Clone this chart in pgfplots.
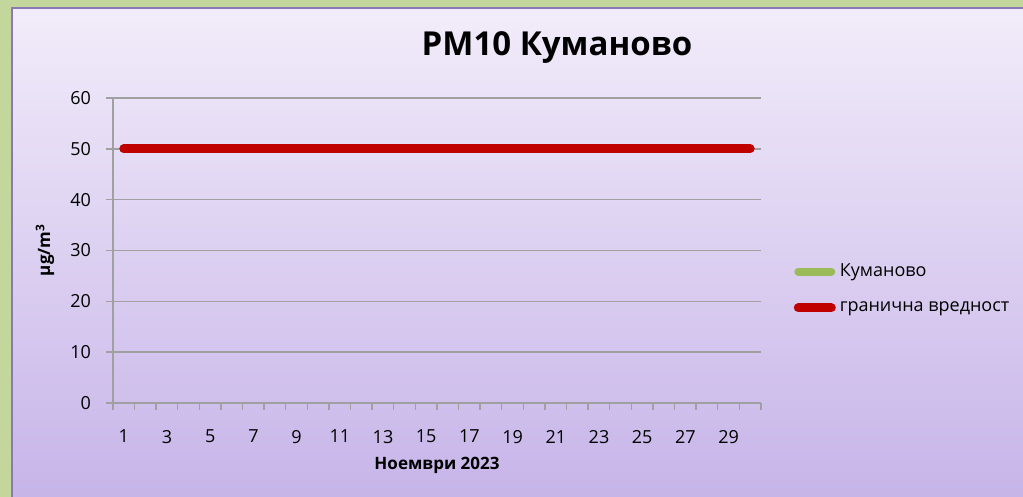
\documentclass[border=0pt]{standalone}
\usepackage{fontspec}
\setmainfont{Open Sans}
\usepackage{pgfplots}
\pgfplotsset{compat=1.18}

\definecolor{bgtop}{RGB}{242,236,250}
\definecolor{bgbot}{RGB}{198,180,232}
\definecolor{frame}{RGB}{195,214,155}
\definecolor{edge}{RGB}{140,120,180}
\definecolor{limred}{RGB}{192,0,0}
\definecolor{kugreen}{RGB}{155,187,89}
\definecolor{gridc}{RGB}{160,160,160}

\begin{document}
\begin{tikzpicture}
% 1 px of the reference = 0.5pt
\useasboundingbox (0,0) rectangle (511.5pt,248.5pt);
\fill[frame] (0,0) rectangle (511.5pt,248.5pt);
\shade[top color=bgtop, bottom color=bgbot] (6pt,-2pt) rectangle (514pt,244.5pt);
\draw[edge, line width=1pt] (6pt,-2pt) -- (6pt,244.5pt) -- (514pt,244.5pt);

\begin{axis}[
    at={(56.5pt,47pt)}, anchor=south west,
    scale only axis, width=324pt, height=152.5pt,
    xmin=0.5, xmax=30.5, ymin=0, ymax=60,
    axis x line*=bottom, axis y line*=left,
    axis line style={-, draw=gridc, line width=0.7pt},
    ytick={0,10,...,60},
    % tick marks at the day boundaries, labels on odd days
    xtick={0.5,1.5,2.5,3.5,4.5,5.5,6.5,7.5,8.5,9.5,10.5,11.5,12.5,13.5,14.5,15.5,
           16.5,17.5,18.5,19.5,20.5,21.5,22.5,23.5,24.5,25.5,26.5,27.5,28.5,29.5,30.5},
    xticklabels={},
    extra x ticks={1,3,5,7,9,11,13,15,17,19,21,23,25,27,29},
    extra x tick style={major tick length=0pt, xticklabel style={yshift=-4pt}},
    xtick style={draw=gridc, line width=0.7pt},
    ytick style={draw=gridc, line width=0.7pt},
    tick align=outside,
    major tick length=3.5pt,
    ymajorgrids,
    grid style={draw=gridc, line width=0.7pt},
    /pgf/number format/assume math mode=true,
    ticklabel style={font=\fontsize{9}{10}\selectfont, text=black},
    xticklabel style={yshift=-6pt},
    yticklabel style={xshift=-4pt},
    legend style={at={(1.05,0.374)}, anchor=west, draw=none, fill=none,
        font=\fontsize{9}{10}\selectfont, row sep=7pt, inner sep=0pt},
    legend cell align=left,
    legend image code/.code={\draw[#1] (0pt,0pt) -- (16.5pt,0pt);},
]
\addlegendimage{kugreen, line width=4pt, line cap=round}
\addlegendentry{Куманово}
\addplot[limred, line width=4.5pt, line cap=round] coordinates {
    (1,50) (2,50) (3,50) (4,50) (5,50) (6,50) (7,50) (8,50) (9,50) (10,50)
    (11,50) (12,50) (13,50) (14,50) (15,50) (16,50) (17,50) (18,50) (19,50) (20,50)
    (21,50) (22,50) (23,50) (24,50) (25,50) (26,50) (27,50) (28,50) (29,50) (30,50)
};
\addlegendentry{гранична вредност}
\end{axis}

\node[font=\fontsize{16.5}{19}\selectfont\bfseries] at (278.5pt,224.5pt) {PM10 Куманово};
\node[font=\fontsize{8.5}{10}\selectfont\bfseries, rotate=90] at (22.5pt,123.5pt) {µg/m\textsuperscript{3}};
\node[font=\fontsize{8.5}{10}\selectfont\bfseries] at (218.5pt,16pt) {Ноември 2023};
\end{tikzpicture}
\end{document}
